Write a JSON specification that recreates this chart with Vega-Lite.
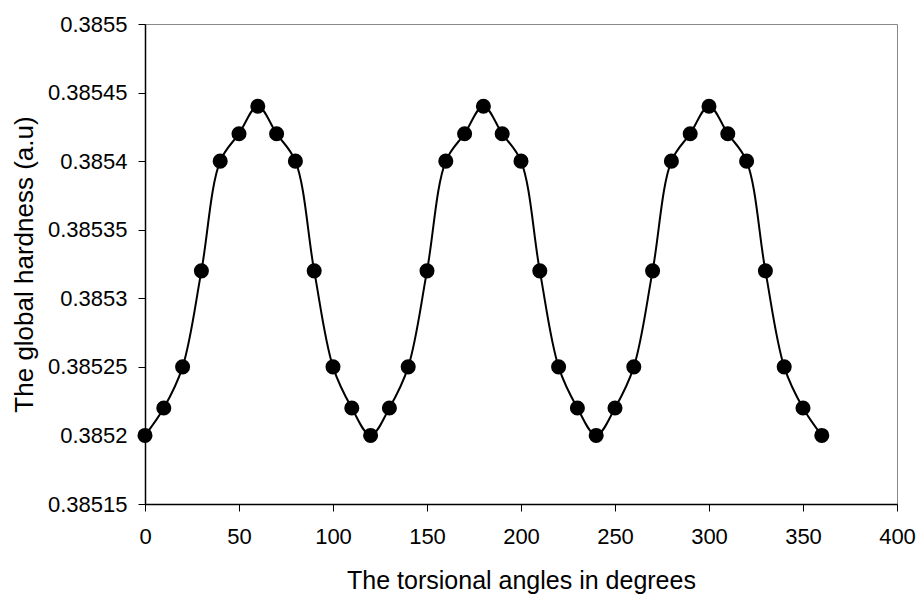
{
  "$schema": "https://vega.github.io/schema/vega-lite/v6.json",
  "autosize": "none",
  "width": 752,
  "height": 480,
  "padding": {"left": 145, "top": 24, "right": 21, "bottom": 91},
  "background": "white",
  "config": {
    "view": {"stroke": "#888888", "strokeWidth": 1},
    "font": "Liberation Sans"
  },
  "data": {
    "values": [
      {"angle": 0, "hardness": 0.3852},
      {"angle": 10, "hardness": 0.38522},
      {"angle": 20, "hardness": 0.38525},
      {"angle": 30, "hardness": 0.38532},
      {"angle": 40, "hardness": 0.3854},
      {"angle": 50, "hardness": 0.38542},
      {"angle": 60, "hardness": 0.38544},
      {"angle": 70, "hardness": 0.38542},
      {"angle": 80, "hardness": 0.3854},
      {"angle": 90, "hardness": 0.38532},
      {"angle": 100, "hardness": 0.38525},
      {"angle": 110, "hardness": 0.38522},
      {"angle": 120, "hardness": 0.3852},
      {"angle": 130, "hardness": 0.38522},
      {"angle": 140, "hardness": 0.38525},
      {"angle": 150, "hardness": 0.38532},
      {"angle": 160, "hardness": 0.3854},
      {"angle": 170, "hardness": 0.38542},
      {"angle": 180, "hardness": 0.38544},
      {"angle": 190, "hardness": 0.38542},
      {"angle": 200, "hardness": 0.3854},
      {"angle": 210, "hardness": 0.38532},
      {"angle": 220, "hardness": 0.38525},
      {"angle": 230, "hardness": 0.38522},
      {"angle": 240, "hardness": 0.3852},
      {"angle": 250, "hardness": 0.38522},
      {"angle": 260, "hardness": 0.38525},
      {"angle": 270, "hardness": 0.38532},
      {"angle": 280, "hardness": 0.3854},
      {"angle": 290, "hardness": 0.38542},
      {"angle": 300, "hardness": 0.38544},
      {"angle": 310, "hardness": 0.38542},
      {"angle": 320, "hardness": 0.3854},
      {"angle": 330, "hardness": 0.38532},
      {"angle": 340, "hardness": 0.38525},
      {"angle": 350, "hardness": 0.38522},
      {"angle": 360, "hardness": 0.3852}
    ]
  },
  "encoding": {
    "x": {
      "field": "angle",
      "type": "quantitative",
      "scale": {"domain": [0, 400], "nice": false, "zero": false},
      "axis": {
        "title": "The torsional angles in degrees",
        "values": [0, 50, 100, 150, 200, 250, 300, 350, 400],
        "grid": false,
        "labelFlush": false,
        "labelOverlap": false,
        "domainColor": "black",
        "domainWidth": 1.5,
        "tickColor": "black",
        "tickSize": 7,
        "labelFontSize": 22,
        "labelColor": "black",
        "labelPadding": 15,
        "labelFont": "Liberation Sans",
        "titleFont": "Liberation Sans",
        "titleFontSize": 25,
        "titleFontWeight": "normal",
        "titleColor": "black",
        "titlePadding": 21
      }
    },
    "y": {
      "field": "hardness",
      "type": "quantitative",
      "scale": {"domain": [0.38515, 0.3855], "nice": false, "zero": false},
      "axis": {
        "title": "The global hardness (a.u)",
        "values": [0.38515, 0.3852, 0.38525, 0.3853, 0.38535, 0.3854, 0.38545, 0.3855],
        "labelExpr": "replace(format(datum.value, '.5f'), /0+$/, '')",
        "grid": false,
        "labelFlush": false,
        "labelOverlap": false,
        "domainColor": "black",
        "domainWidth": 1.5,
        "tickColor": "black",
        "tickSize": 7,
        "labelFontSize": 22,
        "labelColor": "black",
        "labelPadding": 11,
        "labelFont": "Liberation Sans",
        "titleFont": "Liberation Sans",
        "titleFontSize": 26,
        "titleFontWeight": "normal",
        "titleColor": "black",
        "titlePadding": 10
      }
    }
  },
  "layer": [
    {
      "mark": {"type": "line", "interpolate": "catmull-rom", "color": "black", "strokeWidth": 2}
    },
    {
      "mark": {"type": "point", "filled": true, "shape": "circle", "size": 227, "color": "black", "opacity": 1}
    }
  ]
}
